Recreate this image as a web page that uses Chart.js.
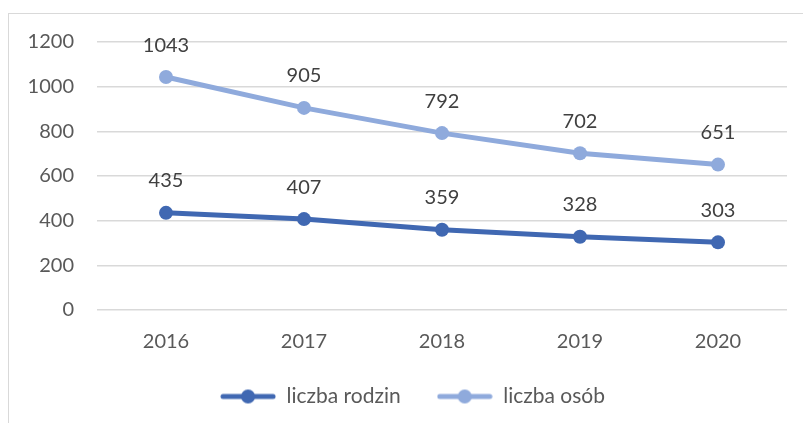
<!DOCTYPE html>
<html>
<head>
<meta charset="utf-8">
<script src="https://cdn.jsdelivr.net/npm/chart.js@4.4.1/dist/chart.umd.min.js"></script>
<style>
html,body{margin:0;padding:0;background:#fff;}
#wrap{width:803px;height:423px;position:relative;}
</style>
</head>
<body>
<div id="wrap"><canvas id="c" width="803" height="423"></canvas></div>
<script>
const years = ['2016', '2017', '2018', '2019', '2020'];
const rodzin = [435, 407, 359, 328, 303];
const osob = [1043, 905, 792, 702, 651];
const yTicks = [0, 200, 400, 600, 800, 1000, 1200];
const seriesNames = ['liczba rodzin', 'liczba osób'];

const DARK = '#4068B2';
const LIGHT = '#8FAADC';
const FONT = 'Lato, "Open Sans", sans-serif';

function legendIcon(color) {
  const cv = document.createElement('canvas');
  cv.width = 56; cv.height = 16;
  const g = cv.getContext('2d');
  g.strokeStyle = color; g.lineWidth = 5; g.lineCap = 'round';
  g.beginPath(); g.moveTo(3, 8); g.lineTo(53, 8); g.stroke();
  g.fillStyle = color;
  g.beginPath(); g.arc(28, 8, 7, 0, Math.PI * 2); g.fill();
  return cv;
}

const frame = {
  id: 'frame',
  beforeDraw(chart) {
    const ctx = chart.ctx;
    ctx.save();
    ctx.strokeStyle = '#D9D9D9';
    ctx.lineWidth = 1;
    ctx.strokeRect(8.5, 13.5, 900, 500);
    ctx.restore();
  }
};

const legendShift = {
  id: 'legendShift',
  afterLayout(chart) {
    if (chart.legend) { chart.legend.left += 19; chart.legend.right += 19; }
  }
};

const labelsPlugin = {
  id: 'vals',
  afterDatasetsDraw(chart) {
    const ctx = chart.ctx;
    ctx.save();
    ctx.font = '20px ' + FONT;
    ctx.fillStyle = '#404040';
    ctx.textAlign = 'center';
    ctx.textBaseline = 'middle';
    chart.data.datasets.forEach((ds, i) => {
      chart.getDatasetMeta(i).data.forEach((pt, j) => {
        ctx.fillText(String(ds.data[j]), pt.x, pt.y - 32);
      });
    });
    ctx.restore();
  }
};

new Chart(document.getElementById('c'), {
  type: 'line',
  data: {
    labels: years,
    datasets: [
      { label: seriesNames[0], data: rodzin, borderColor: DARK, backgroundColor: DARK,
        borderWidth: 5, pointRadius: 7, pointHoverRadius: 7, pointBorderWidth: 0,
        pointStyle: 'circle', tension: 0 },
      { label: seriesNames[1], data: osob, borderColor: LIGHT, backgroundColor: LIGHT,
        borderWidth: 5, pointRadius: 7, pointHoverRadius: 7, pointBorderWidth: 0,
        pointStyle: 'circle', tension: 0 }
    ]
  },
  options: {
    responsive: false,
    animation: false,
    devicePixelRatio: 1,
    layout: { padding: { top: 42, right: 16, left: 0, bottom: 10 } },
    scales: {
      x: {
        offset: true,
        grid: { display: false, drawTicks: false },
        border: { display: false },
        ticks: { font: { family: FONT, size: 20 }, color: '#595959', padding: 20 },
        afterFit(s) { s.height = 40; }
      },
      y: {
        min: 0, max: 1200,
        afterBuildTicks(s) { s.ticks = yTicks.map(v => ({ value: v })); },
        grid: { color: '#D9D9D9', lineWidth: 1.5, drawTicks: false },
        border: { display: false },
        ticks: { font: { family: FONT, size: 20 }, color: '#595959', padding: 23,
                 callback: v => String(v) },
        afterFit(s) { s.width = 97; }
      }
    },
    plugins: {
      tooltip: { enabled: false },
      legend: {
        position: 'bottom',
        maxHeight: 63,
        labels: {
          font: { family: FONT, size: 21 },
          color: '#595959',
          usePointStyle: true,
          pointStyleWidth: 56,
          padding: 36,
          generateLabels(chart) {
            return chart.data.datasets.map((ds, i) => ({
              text: ds.label,
              pointStyle: legendIcon(ds.borderColor),
              fillStyle: ds.borderColor,
              strokeStyle: ds.borderColor,
              lineWidth: 0,
              fontColor: '#595959',
              hidden: false,
              datasetIndex: i
            }));
          }
        }
      }
    }
  },
  plugins: [frame, legendShift, labelsPlugin]
});
</script>
</body>
</html>
